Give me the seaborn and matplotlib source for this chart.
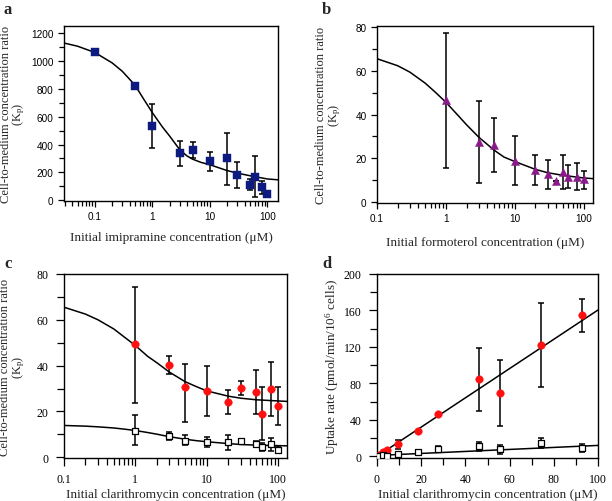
import numpy as np
import pandas as pd
import seaborn as sns
import matplotlib.pyplot as plt
from matplotlib.ticker import MultipleLocator, FixedLocator, FixedFormatter, LogLocator, NullFormatter

# ---- panel a : imipramine ----
a_conc = [0.1, 0.5, 1, 3, 5, 10, 20, 30, 50, 60, 80, 100]
a_kp = [1062, 823, 532, 338, 362, 280, 300, 183, 112, 170, 98, 43]
a_lo = [1062, 823, 378, 248, 300, 212, 112, 86, 74, 22, 44, 43]
a_hi = [1062, 823, 688, 428, 420, 343, 484, 272, 150, 318, 140, 43]
a_fit_x = [0.029, 0.05, 0.1, 0.2, 0.3, 0.5, 0.7, 1, 1.5, 2, 3, 4, 5, 7, 10, 20, 30, 50, 100, 153]
a_fit_y = [1128, 1105, 1060, 985, 925, 825, 728, 628, 525, 460, 362, 318, 295, 272, 255, 213, 195, 176, 153, 147]

# ---- panel b : formoterol ----
b_conc = [1, 3, 5, 10, 20, 30, 40, 50, 60, 80, 100]
b_kp = [46.5, 27.6, 26.2, 18.9, 14.8, 12.7, 9.5, 13.9, 11.7, 11.7, 10.6]
b_lo = [15.5, 8.6, 13.9, 8.0, 8.0, 6.1, 9.5, 6.1, 6.5, 5.6, 6.1]
b_hi = [77.3, 46.2, 38.3, 30.3, 21.7, 19.1, 9.5, 21.7, 17.0, 17.7, 14.1]
b_fit_x = [0.1, 0.2, 0.3, 0.5, 0.7, 1, 1.5, 2, 3, 5, 7, 10, 20, 30, 50, 100, 137]
b_fit_y = [65.4, 62.2, 59.3, 54.3, 50.2, 45.6, 39.6, 35.3, 29.7, 23.8, 20.6, 18.6, 15.0, 13.5, 12.3, 11.1, 10.8]

# ---- panel c : clarithromycin Kp (37 C red, 4 C open squares) ----
c_conc = [1, 3, 5, 10, 20, 30, 50, 60, 80, 100]
c_kp37 = [49.4, 40.2, 30.6, 29.0, 24.1, 30.3, 28.5, 19.0, 29.8, 22.6]
c_lo37 = [23.7, 36.4, 15.5, 18.1, 18.9, 27.0, 19.0, 7.7, 17.9, 14.2]
c_hi37 = [74.5, 44.0, 40.7, 39.9, 29.2, 33.4, 37.9, 30.6, 41.4, 30.6]
c_kp4 = [11.6, 9.1, 7.1, 6.8, 6.7, 7.1, 6.0, 4.4, 6.0, 3.3]
c_lo4 = [5.2, 7.4, 5.2, 4.5, 3.0, 6.2, 4.5, 2.6, 2.9, 1.9]
c_hi4 = [18.3, 10.9, 9.6, 8.9, 9.9, 8.0, 7.0, 6.2, 8.4, 4.8]
c_fit_x = [0.1, 0.2, 0.3, 0.5, 0.7, 1, 1.5, 2, 3, 5, 7, 10, 20, 30, 50, 100, 134]
c_fit37 = [65.5, 62.5, 60.0, 56.0, 52.5, 48.8, 44.0, 41.3, 37.2, 33.0, 31.0, 29.0, 26.7, 25.8, 25.1, 24.6, 24.4]
c_fit4 = [13.9, 13.6, 13.3, 12.8, 12.3, 11.7, 10.8, 10.1, 9.0, 7.9, 7.3, 6.8, 6.0, 5.6, 5.3, 5.1, 5.0]

# ---- panel d : uptake rate ----
d_conc = [0.93, 2.8, 4.6, 9.3, 18.5, 27.8, 46.3, 55.6, 74.1, 92.6]
d_rate37 = [1.0, 4.7, 7.3, 13.5, 27.4, 46.7, 84.7, 69.3, 121.9, 155.1]
d_lo37 = [1.0, 4.7, 7.3, 8.4, 27.4, 46.7, 49.3, 32.8, 75.9, 136.5]
d_hi37 = [1.0, 4.7, 7.3, 18.2, 27.4, 46.7, 118.6, 105.8, 168.6, 173.0]
d_rate4 = [0.7, 1.5, 0.9, 2.9, 5.1, 7.7, 11.7, 7.7, 14.6, 8.8]
d_lo4 = [0.7, 1.5, 0.9, 2.0, 2.9, 4.4, 5.8, 2.2, 8.8, 5.1]
d_hi4 = [0.7, 1.5, 0.9, 3.8, 7.3, 10.9, 15.3, 12.8, 19.7, 13.1]
d_fit_x = [0, 100]
d_fit37 = [0, 160.5]
d_fit4 = [1.0, 12.0]

sns.set_theme(style="ticks")
plt.rcParams['font.family'] = ['Liberation Serif', 'DejaVu Serif']
plt.rcParams['mathtext.fontset'] = 'custom'
plt.rcParams['mathtext.rm'] = 'Liberation Serif'
plt.rcParams['mathtext.it'] = 'Liberation Serif:italic'
plt.rcParams['axes.linewidth'] = 1.0
plt.rcParams['axes.edgecolor'] = 'black'
plt.rcParams['xtick.color'] = 'black'
plt.rcParams['ytick.color'] = 'black'

fig = plt.figure(figsize=(6.12, 5.02), dpi=100)
W, H = 612, 502


def box(l, t, r, b):
    return [l / W, 1 - b / H, (r - l) / W, (b - t) / H]


ax_a = fig.add_axes(box(64, 27, 278, 202))
ax_b = fig.add_axes(box(377, 27, 593, 204))
ax_c = fig.add_axes(box(64, 275, 287, 459))
ax_d = fig.add_axes(box(377, 275, 598, 459))

ylab = 'Cell-to-medium concentration ratio\n(K$_\\mathrm{p}$)'


def errbars(ax, x, y, lo, hi):
    y = np.array(y)
    err = np.vstack([y - np.array(lo), np.array(hi) - y])
    ax.errorbar(x, y, yerr=err, fmt='none', ecolor='black', elinewidth=1.1,
                capsize=2.1, capthick=1.1, zorder=2)


def style(ax, sans):
    ln = 4.5 if sans else 6
    pad = 3 if sans else 5
    ax.tick_params(which='major', direction='out', length=ln, width=0.9, pad=pad,
                   top=False, right=False)
    ax.tick_params(which='minor', direction='out', length=ln - 1, width=0.9,
                   top=False, right=False)
    fam = ['Liberation Sans'] if sans else ['Liberation Serif']
    size = 7.2 if sans else 8.5
    for lab in ax.get_xticklabels() + ax.get_yticklabels():
        lab.set_family(fam)
        lab.set_fontsize(size)
    for s in ax.spines.values():
        s.set_visible(True)
        s.set_color('black')


def logx(ax, lo, hi):
    ax.set_xscale('log')
    ax.set_xlim(lo, hi)
    ax.xaxis.set_major_locator(FixedLocator([0.1, 1, 10, 100]))
    ax.xaxis.set_major_formatter(FixedFormatter(['0.1', '1', '10', '100']))
    ax.xaxis.set_minor_locator(LogLocator(base=10, subs=np.arange(2, 10), numticks=20))
    ax.xaxis.set_minor_formatter(NullFormatter())


# panel a
sns.lineplot(x=a_fit_x, y=a_fit_y, ax=ax_a, color='black', lw=1.1, zorder=3)
errbars(ax_a, a_conc, a_kp, a_lo, a_hi)
sns.scatterplot(x=a_conc, y=a_kp, ax=ax_a, marker='s', s=30, color='#0d1a80',
                edgecolor='#0d1a80', linewidth=0.3, zorder=4)
logx(ax_a, 0.029, 153)
ax_a.set_ylim(-5, 1250)
ax_a.yaxis.set_major_locator(MultipleLocator(200))
ax_a.yaxis.set_minor_locator(MultipleLocator(100))
ax_a.set_xlabel('Initial imipramine concentration (μM)', fontsize=9.5, labelpad=7)
ax_a.set_ylabel(ylab, fontsize=9, linespacing=0.9)
ax_a.yaxis.set_label_coords(-0.172, 0.5)
style(ax_a, True)

# panel b
sns.lineplot(x=b_fit_x, y=b_fit_y, ax=ax_b, color='black', lw=1.1, zorder=3)
errbars(ax_b, b_conc, b_kp, b_lo, b_hi)
sns.scatterplot(x=b_conc, y=b_kp, ax=ax_b, marker='^', s=34, color='#8a1a8a',
                edgecolor='#8a1a8a', linewidth=0.3, zorder=4)
logx(ax_b, 0.1, 137)
ax_b.set_ylim(-0.3, 80.3)
ax_b.yaxis.set_major_locator(MultipleLocator(20))
ax_b.yaxis.set_minor_locator(MultipleLocator(10))
ax_b.set_xlabel('Initial formoterol concentration (μM)', fontsize=9.5, labelpad=9)
ax_b.set_ylabel(ylab, fontsize=9, linespacing=0.9)
ax_b.yaxis.set_label_coords(-0.158, 0.5)
style(ax_b, True)

# panel c
sns.lineplot(x=c_fit_x, y=c_fit37, ax=ax_c, color='black', lw=1.1, zorder=3)
sns.lineplot(x=c_fit_x, y=c_fit4, ax=ax_c, color='black', lw=1.1, zorder=3)
errbars(ax_c, c_conc, c_kp37, c_lo37, c_hi37)
errbars(ax_c, c_conc, c_kp4, c_lo4, c_hi4)
sns.scatterplot(x=c_conc, y=c_kp37, ax=ax_c, marker='o', s=30, color='#ff1010',
                edgecolor='#ff1010', linewidth=0.3, zorder=4)
sns.scatterplot(x=c_conc, y=c_kp4, ax=ax_c, marker='s', s=17, facecolor='white',
                edgecolor='black', linewidth=0.9, zorder=4)
logx(ax_c, 0.1, 134)
ax_c.set_ylim(-0.3, 80)
ax_c.yaxis.set_major_locator(MultipleLocator(20))
ax_c.yaxis.set_minor_locator(MultipleLocator(10))
ax_c.set_xlabel('Initial clarithromycin concentration (μM)', fontsize=9.5, labelpad=2)
ax_c.set_ylabel(ylab, fontsize=9, linespacing=0.9)
ax_c.yaxis.set_label_coords(-0.166, 0.5)
style(ax_c, False)

# panel d
sns.lineplot(x=d_fit_x, y=d_fit37, ax=ax_d, color='black', lw=1.1, zorder=3)
sns.lineplot(x=d_fit_x, y=d_fit4, ax=ax_d, color='black', lw=1.1, zorder=3)
errbars(ax_d, d_conc, d_rate37, d_lo37, d_hi37)
errbars(ax_d, d_conc, d_rate4, d_lo4, d_hi4)
sns.scatterplot(x=d_conc, y=d_rate37, ax=ax_d, marker='o', s=30, color='#ff1010',
                edgecolor='#ff1010', linewidth=0.3, zorder=4)
sns.scatterplot(x=d_conc, y=d_rate4, ax=ax_d, marker='s', s=17, facecolor='white',
                edgecolor='black', linewidth=0.9, zorder=4)
ax_d.set_xlim(0, 100)
ax_d.set_ylim(-1.8, 200)
ax_d.xaxis.set_major_locator(MultipleLocator(20))
ax_d.xaxis.set_minor_locator(MultipleLocator(10))
ax_d.yaxis.set_major_locator(MultipleLocator(40))
ax_d.yaxis.set_minor_locator(MultipleLocator(20))
ax_d.set_xlabel('Initial clarithromycin concentration (μM)', fontsize=9.5, labelpad=2)
ax_d.set_ylabel('Uptake rate (pmol/min/10$^{6}$ cells)', fontsize=9.5)
ax_d.yaxis.set_label_coords(-0.163, 0.5)
style(ax_d, False)

for lbl, x, y in [('a', 4, 14), ('b', 322, 14), ('c', 4, 268), ('d', 322, 268)]:
    fig.text(x / W, 1 - y / H, lbl, fontsize=12, fontweight='bold',
             family=['Liberation Serif'])

fig.savefig('out.png', dpi=100)
